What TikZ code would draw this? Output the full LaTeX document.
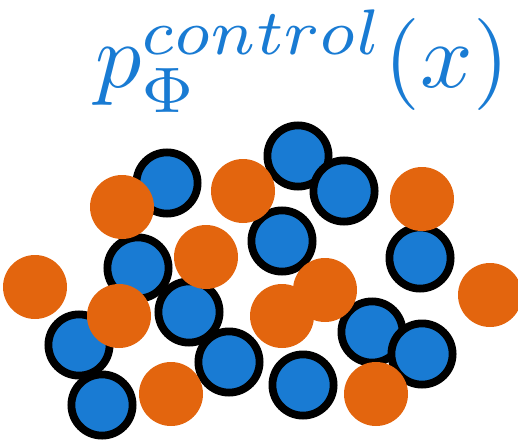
\documentclass[tikz,border=0pt]{standalone}
\definecolor{cblue}{RGB}{25,123,211}
\definecolor{corange}{RGB}{227,101,14}
\begin{document}
\begin{tikzpicture}[x=1pt,y=-1pt,
  bluedot/.style={circle,draw=black,line width=7.8pt,fill=cblue,minimum size=61.2pt,inner sep=0pt},
  orangedot/.style={circle,fill=corange,minimum size=64pt,inner sep=0pt}]
\useasboundingbox (0,0) rectangle (518,441);
% title
\node[text=cblue,scale=9.2,inner sep=0pt] (title) at (302,61) {$p_{\Phi}^{control}(x)$};
% blue particles
\node[bluedot] (bA) at (167,183) {};
\node[bluedot] (bG) at (298,156) {};
\node[bluedot] (bH) at (344,191) {};
\node[bluedot] (bJ) at (282,241) {};
\node[bluedot] (bK) at (420,258) {};
\node[bluedot] (bD) at (138,268) {};
\node[bluedot] (bO) at (189,312) {};
\node[bluedot] (bP) at (229,362) {};
\node[bluedot] (bN) at (79,345) {};
\node[bluedot] (bQ) at (102,405) {};
\node[bluedot] (bU) at (372,332) {};
\node[bluedot] (bV) at (422,354) {};
\node[bluedot] (bX) at (303,385) {};
% orange particles
\node[orangedot] (oB) at (122,207) {};
\node[orangedot] (oC) at (243,191) {};
\node[orangedot] (oE) at (206,257) {};
\node[orangedot] (oF) at (35,287) {};
\node[orangedot] (oI) at (422,199) {};
\node[orangedot] (oL) at (490,295) {};
\node[orangedot] (oT) at (325,290) {};
\node[orangedot] (oS) at (282,316) {};
\node[orangedot] (oM) at (119,316) {};
\node[orangedot] (oR) at (171,394) {};
\node[orangedot] (oY) at (376,394) {};
\end{tikzpicture}
\end{document}
